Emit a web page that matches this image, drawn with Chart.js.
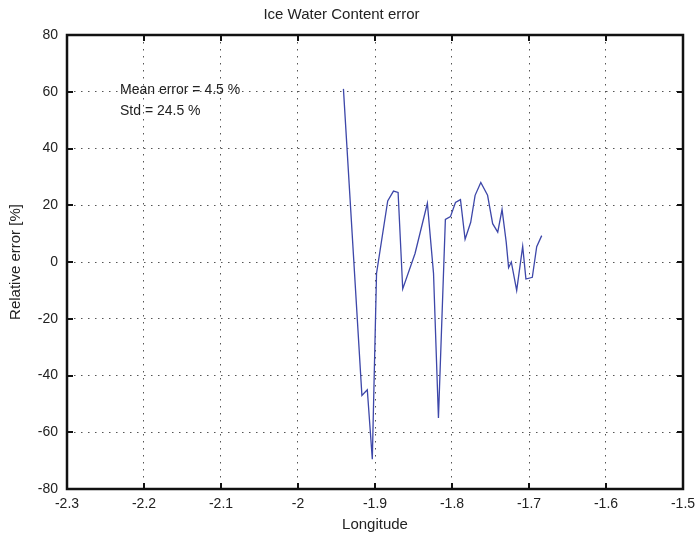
<!DOCTYPE html>
<html>
<head>
<meta charset="utf-8">
<script src="https://cdn.jsdelivr.net/npm/chart.js@4/dist/chart.umd.min.js"></script>
<style>
  html, body { margin: 0; padding: 0; background: #fff; }
  #wrap { width: 697px; height: 538px; }
</style>
</head>
<body>
<div id="wrap"><canvas id="c" width="697" height="538"></canvas></div>
<script>
// ---- data ----
const longitude = [-1.941, -1.917, -1.910, -1.9035, -1.898, -1.8835, -1.876, -1.870, -1.864, -1.848,
  -1.832, -1.824, -1.8176, -1.8086, -1.802, -1.7955, -1.789, -1.783, -1.7757, -1.770,
  -1.7626, -1.7538, -1.7472, -1.7406, -1.735, -1.7296, -1.7265, -1.723, -1.716, -1.7082,
  -1.704, -1.6957, -1.690, -1.6835];
const relativeError = [61, -47, -45, -69.5, -4, 21.5, 25, 24.5, -9.5, 3,
  20.7, -4, -55, 15, 16, 21, 22, 8, 14, 23.5,
  28, 23.5, 13.5, 10.5, 18.5, 7, -2, 0, -10, 5.5,
  -6, -5.4, 5.4, 9.3];
const xTickValues = [-2.3, -2.2, -2.1, -2.0, -1.9, -1.8, -1.7, -1.6, -1.5];
const xTickLabels = ['-2.3', '-2.2', '-2.1', '-2', '-1.9', '-1.8', '-1.7', '-1.6', '-1.5'];
const yTickValues = [-80, -60, -40, -20, 0, 20, 40, 60, 80];
const yTickLabels = ['-80', '-60', '-40', '-20', '0', '20', '40', '60', '80'];
const annotationLines = ['Mean error = 4.5 %', 'Std = 24.5 %'];
const annotationAnchor = { x: -2.2312, y: 60.6 };

const points = longitude.map((x, i) => ({ x: x, y: relativeError[i] }));
const FONT = '"Liberation Sans", Arial, Helvetica, sans-serif';

const framePlugin = {
  id: 'frame',
  afterDraw(chart) {
    const { ctx, chartArea: a, scales } = chart;
    ctx.save();
    ctx.strokeStyle = '#111';
    ctx.lineWidth = 2;
    const tl = 6;
    xTickValues.forEach(v => {
      const px = Math.round(scales.x.getPixelForValue(v));
      ctx.beginPath();
      ctx.moveTo(px, a.bottom); ctx.lineTo(px, a.bottom - tl);
      ctx.moveTo(px, a.top); ctx.lineTo(px, a.top + tl);
      ctx.stroke();
    });
    yTickValues.forEach(v => {
      const py = Math.round(scales.y.getPixelForValue(v));
      ctx.beginPath();
      ctx.moveTo(a.left, py); ctx.lineTo(a.left + tl, py);
      ctx.moveTo(a.right, py); ctx.lineTo(a.right - tl, py);
      ctx.stroke();
    });
    ctx.lineWidth = 2.5;
    ctx.strokeRect(a.left, a.top, a.right - a.left, a.bottom - a.top);
    ctx.fillStyle = '#222';
    ctx.font = '14px ' + FONT;
    ctx.textAlign = 'left';
    ctx.textBaseline = 'middle';
    const ax = scales.x.getPixelForValue(annotationAnchor.x);
    const ay = scales.y.getPixelForValue(annotationAnchor.y);
    annotationLines.forEach((t, i) => ctx.fillText(t, ax, ay + i * 21));
    ctx.restore();
  }
};

new Chart(document.getElementById('c'), {
  type: 'scatter',
  data: {
    datasets: [{
      data: points,
      showLine: true,
      borderColor: '#3d47a9',
      borderWidth: 1.3,
      pointRadius: 0,
      pointHoverRadius: 0,
      tension: 0,
      fill: false
    }]
  },
  options: {
    responsive: false,
    devicePixelRatio: 1,
    animation: false,
    events: [],
    layout: { padding: { left: 0, right: 14, top: 0, bottom: 0 } },
    plugins: {
      legend: { display: false },
      tooltip: { enabled: false },
      title: {
        display: true,
        text: 'Ice Water Content error',
        color: '#222',
        font: { family: FONT, size: 15, weight: 'normal' },
        padding: { top: 6, bottom: 11 }
      }
    },
    scales: {
      x: {
        type: 'linear',
        min: -2.3, max: -1.5,
        afterFit(s) { s.height = 49; s.paddingRight = 0; s.paddingLeft = 0; },
        afterBuildTicks(s) { s.ticks = xTickValues.map(v => ({ value: v })); },
        ticks: {
          padding: 7,
          color: '#222',
          font: { family: FONT, size: 14 },
          maxRotation: 0,
          autoSkip: false,
          callback: (v, i) => xTickLabels[i]
        },
        grid: { color: '#555', lineWidth: 1, drawTicks: false },
        border: { display: false, dash: [1.5, 5.5] },
        title: {
          display: true, text: 'Longitude', color: '#222',
          font: { family: FONT, size: 15 },
          padding: { top: 0, bottom: 4 }
        }
      },
      y: {
        type: 'linear',
        min: -80, max: 80,
        afterFit(s) { s.width = 67; s.paddingTop = 0; s.paddingBottom = 0; },
        afterBuildTicks(s) { s.ticks = yTickValues.map(v => ({ value: v })); },
        ticks: {
          padding: 9,
          color: '#222',
          font: { family: FONT, size: 14 },
          autoSkip: false,
          callback: (v, i) => yTickLabels[i]
        },
        grid: { color: '#555', lineWidth: 1, drawTicks: false },
        border: { display: false, dash: [1.5, 5.5] },
        title: {
          display: true, text: 'Relative error [%]', color: '#222',
          font: { family: FONT, size: 15 },
          padding: { top: 7, bottom: 0 }
        }
      }
    }
  },
  plugins: [framePlugin]
});
</script>
</body>
</html>
